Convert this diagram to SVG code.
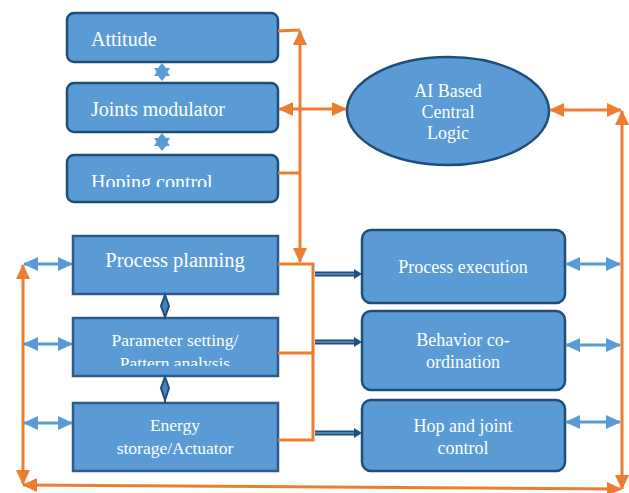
<svg xmlns="http://www.w3.org/2000/svg" width="629" height="493" viewBox="0 0 629 493" font-family="Liberation Serif, DejaVu Serif, serif">
<style>
.box{fill:#5b9bd5;stroke:#1f4e79;stroke-width:2.5}
.sq{fill:#5b9bd5;stroke:#2e5b8a;stroke-width:2.5}
.t{fill:#ffffff}
.or{stroke:#ed7d31;stroke-width:3;fill:none}
.bl{stroke:#5b9bd5;stroke-width:3;fill:none}
.dk{stroke:#1f4e79;stroke-width:5;fill:none}
.dki{stroke:#4f81b8;stroke-width:2;fill:none}
</style>
<defs>
<marker id="oa" markerUnits="userSpaceOnUse" markerWidth="16" markerHeight="16" viewBox="0 0 16 16" refX="14" refY="8" orient="auto-start-reverse">
<path d="M0,1 L15,8 L0,15 Z" fill="#ed7d31"/>
</marker>
<marker id="ba" markerUnits="userSpaceOnUse" markerWidth="16" markerHeight="16" viewBox="0 0 16 16" refX="14" refY="8" orient="auto-start-reverse">
<path d="M0,1 L15,8 L0,15 Z" fill="#5b9bd5"/>
</marker>
<clipPath id="c1"><rect x="60" y="150" width="230" height="37"/></clipPath>
<clipPath id="c2"><rect x="60" y="300" width="230" height="66"/></clipPath>
</defs>

<g id="attitude">
<rect class="box" x="67" y="13" width="211" height="49" rx="7"/>
<text class="t" font-family="Liberation Serif, serif" x="91" y="46" font-size="20">Attitude</text>
</g>
<g id="joints-modulator">
<rect class="box" x="67" y="83" width="211" height="49" rx="7"/>
<text class="t" font-family="Liberation Serif, serif" x="91" y="116" font-size="20">Joints modulator</text>
</g>
<g id="hoping-control">
<rect class="box" x="67" y="155" width="211" height="47" rx="7"/>
<text class="t" font-family="Liberation Serif, serif" x="91" y="189" font-size="20" clip-path="url(#c1)">Hoping control</text>
</g>
<g id="stars" fill="#5b9bd5">
<path d="M162,63 L166,68 L170,68 L167.5,72 L170,76 L166,76 L162,81 L158,76 L154,76 L156.5,72 L154,68 L158,68 Z"/>
<path d="M162,133 L166,138 L170,138 L167.5,142 L170,146 L166,146 L162,151 L158,146 L154,146 L156.5,142 L154,138 L158,138 Z"/>
</g>
<g id="ai-logic">
<ellipse cx="448" cy="111" rx="101" ry="54" fill="#5b9bd5" stroke="#1f4e79" stroke-width="2.5"/>
<text class="t" font-family="Liberation Serif, serif" x="448" y="97" font-size="18" text-anchor="middle">AI Based</text>
<text class="t" font-family="Liberation Serif, serif" x="448" y="118" font-size="18" text-anchor="middle">Central</text>
<text class="t" font-family="Liberation Serif, serif" x="448" y="139" font-size="18" text-anchor="middle">Logic</text>
</g>

<g id="process-planning">
<rect class="sq" x="73" y="236" width="205" height="58"/>
<text class="t" font-family="Liberation Serif, serif" x="175" y="267" font-size="20.5" text-anchor="middle">Process planning</text>
</g>
<g id="parameter-setting">
<rect class="sq" x="73" y="318" width="205" height="58"/>
<g clip-path="url(#c2)">
<text class="t" font-family="Liberation Serif, serif" x="175" y="346" font-size="17.5" text-anchor="middle">Parameter setting/</text>
<text class="t" font-family="Liberation Serif, serif" x="175" y="369" font-size="17.5" text-anchor="middle">Pattern analysis</text>
</g>
</g>
<g id="energy-storage">
<rect class="sq" x="73" y="403" width="205" height="68"/>
<text class="t" font-family="Liberation Serif, serif" x="175" y="431" font-size="17.5" text-anchor="middle">Energy</text>
<text class="t" font-family="Liberation Serif, serif" x="175" y="454" font-size="17.5" text-anchor="middle">storage/Actuator</text>
</g>
<g id="diamonds" fill="#4a82c0" stroke="#1f4e79" stroke-width="2">
<path d="M165,295 L169,306 L165,317 L161,306 Z"/>
<path d="M165,377 L169,388 L165,400 L161,388 Z"/>
<line x1="165" y1="400" x2="165" y2="403"/>
</g>

<g id="process-execution">
<rect class="box" x="362" y="230" width="203" height="73" rx="9"/>
<text class="t" font-family="Liberation Serif, serif" x="463" y="273" font-size="18" text-anchor="middle">Process execution</text>
</g>
<g id="behavior-coordination">
<rect class="box" x="362" y="311" width="203" height="79" rx="9"/>
<text class="t" font-family="Liberation Serif, serif" x="463" y="346" font-size="18" text-anchor="middle">Behavior co-</text>
<text class="t" font-family="Liberation Serif, serif" x="463" y="368" font-size="18" text-anchor="middle">ordination</text>
</g>
<g id="hop-joint-control">
<rect class="box" x="362" y="400" width="203" height="71" rx="9"/>
<text class="t" font-family="Liberation Serif, serif" x="463" y="432" font-size="18" text-anchor="middle">Hop and joint</text>
<text class="t" font-family="Liberation Serif, serif" x="463" y="454" font-size="18" text-anchor="middle">control</text>
</g>

<g id="connectors">
<polyline class="or" points="278,31 300,30"/>
<polyline class="or" points="278,173 300,173"/>
<line class="or" x1="300" y1="31" x2="300" y2="262" marker-start="url(#oa)" marker-end="url(#oa)"/>
<line class="or" x1="279" y1="109" x2="346" y2="109" marker-start="url(#oa)" marker-end="url(#oa)"/>
<line class="or" x1="550" y1="110" x2="621" y2="110" marker-start="url(#oa)" marker-end="url(#oa)"/>
<line class="or" x1="622" y1="111" x2="622" y2="489" marker-start="url(#oa)" marker-end="url(#oa)"/>
<line class="or" x1="621" y1="489" x2="23" y2="485" marker-start="url(#oa)" marker-end="url(#oa)"/>
<line class="or" x1="23" y1="265" x2="23" y2="484" marker-start="url(#oa)" marker-end="url(#oa)"/>
<polyline class="or" points="278,264 313,264 313,440 278,440"/>
<line class="or" x1="278" y1="353" x2="313" y2="353"/>
<line class="bl" x1="24" y1="264" x2="72" y2="264" marker-start="url(#ba)" marker-end="url(#ba)"/>
<line class="bl" x1="24" y1="344" x2="72" y2="344" marker-start="url(#ba)" marker-end="url(#ba)"/>
<line class="bl" x1="24" y1="423" x2="72" y2="423" marker-start="url(#ba)" marker-end="url(#ba)"/>
<line class="bl" x1="566" y1="264" x2="620" y2="264" marker-start="url(#ba)" marker-end="url(#ba)"/>
<line class="bl" x1="566" y1="345" x2="620" y2="345" marker-start="url(#ba)" marker-end="url(#ba)"/>
<line class="bl" x1="566" y1="422" x2="620" y2="422" marker-start="url(#ba)" marker-end="url(#ba)"/>
<g>
<line class="dk" x1="315" y1="274" x2="356" y2="274"/>
<line class="dki" x1="315" y1="274" x2="356" y2="274"/>
<path d="M354,269 L362,274 L354,279 Z" fill="#1f4e79"/>
<line class="dk" x1="315" y1="342" x2="356" y2="342"/>
<line class="dki" x1="315" y1="342" x2="356" y2="342"/>
<path d="M354,337 L362,342 L354,347 Z" fill="#1f4e79"/>
<line class="dk" x1="315" y1="433" x2="356" y2="433"/>
<line class="dki" x1="315" y1="433" x2="356" y2="433"/>
<path d="M354,428 L362,433 L354,438 Z" fill="#1f4e79"/>
</g>
</g>
</svg>
